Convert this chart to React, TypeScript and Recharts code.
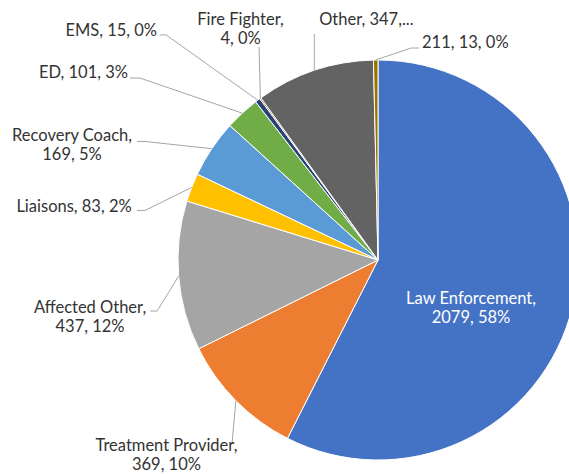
import React from "react";
import { PieChart, Pie, Cell } from "recharts";

const categories = [
  "Law Enforcement",
  "Treatment Provider",
  "Affected Other",
  "Liaisons",
  "Recovery Coach",
  "ED",
  "EMS",
  "Fire Fighter",
  "Other",
  "211",
];
const counts = [2079, 369, 437, 83, 169, 101, 15, 4, 347, 13];
const colors = [
  "#4472C4",
  "#ED7D31",
  "#A5A5A5",
  "#FFC000",
  "#5B9BD5",
  "#70AD47",
  "#264478",
  "#9E480E",
  "#636363",
  "#997300",
];

// label text lines (Excel wraps some of them, "Other" is truncated)
const labelLines: string[][] = [
  ["Law Enforcement,", "2079, 58%"],
  ["Treatment Provider,", "369, 10%"],
  ["Affected Other,", "437, 12%"],
  ["Liaisons, 83, 2%"],
  ["Recovery Coach,", "169, 5%"],
  ["ED, 101, 3%"],
  ["EMS, 15, 0%"],
  ["Fire Fighter,", "4, 0%"],
  ["Other, 347,..."],
  ["211, 13, 0%"],
];

// label placement relative to the slice's outer arc midpoint
type LabelPos = {
  dx: number;
  dy: number;
  anchor: "start" | "middle" | "end";
  leader: [number, number][];
  inside?: boolean;
};
const labelPos: LabelPos[] = [
  { dx: -101.5, dy: -3, anchor: "middle", leader: [], inside: true },
  { dx: -69.4, dy: 50.6, anchor: "middle", leader: [[-3.9, 43.3]] },
  { dx: -88.6, dy: 37, anchor: "middle", leader: [[-28.6, 35], [-21.6, 35]] },
  { dx: -59.9, dy: 24.8, anchor: "end", leader: [[-54.6, 23], [-46.6, 23]] },
  { dx: -139.8, dy: -7.4, anchor: "middle", leader: [[-74.8, -7.2], [-66.8, -7.2]] },
  { dx: -114.2, dy: -35.6, anchor: "end", leader: [[-112.2, -35.1], [-102.2, -35.1]] },
  { dx: -100.6, dy: -64, anchor: "end", leader: [[-97.6, -65.3], [-91.6, -65.3]] },
  { dx: -19.8, dy: -73, anchor: "middle", leader: [[-1.3, -51.3]] },
  { dx: 4.8, dy: -45, anchor: "start", leader: [[0, -36.4]] },
  { dx: 46.3, dy: -12, anchor: "start", leader: [[43.3, -12], [35.3, -12]] },
];

const data = categories.map((name, i) => ({ name, value: counts[i] }));

const RADIAN = Math.PI / 180;
const LINE_H = 19;

const renderLabel = (props: any) => {
  const { cx, cy, midAngle, outerRadius, index } = props;
  const mx = cx + outerRadius * Math.cos(-midAngle * RADIAN);
  const my = cy + outerRadius * Math.sin(-midAngle * RADIAN);
  const pos = labelPos[index];
  const lines = labelLines[index];
  const pts = pos.leader.map(([x, y]) => `${mx + x},${my + y}`);
  return (
    <g key={`label-${index}`}>
      {pos.leader.length > 0 && (
        <polyline
          points={[...pts, `${mx},${my}`].join(" ")}
          fill="none"
          stroke="#A6A6A6"
          strokeWidth={1}
        />
      )}
      <text
        x={mx + pos.dx}
        y={my + pos.dy}
        textAnchor={pos.anchor}
        fill={pos.inside ? "#FFFFFF" : "#333333"}
        style={{ fontFamily: "Lato, sans-serif", fontSize: 16.5 }}
      >
        {lines.map((t, k) => (
          <tspan key={k} x={mx + pos.dx} dy={k === 0 ? 0 : LINE_H}>
            {t}
          </tspan>
        ))}
      </text>
    </g>
  );
};

export default function App() {
  return (
    <div
      style={{
        position: "absolute",
        left: 0,
        top: 0,
        width: 569,
        height: 474,
        overflow: "hidden",
        background: "#fff",
      }}
    >
      <PieChart width={569} height={474} margin={{ top: 0, right: 0, bottom: 0, left: 0 }}>
        <Pie
          data={data}
          dataKey="value"
          nameKey="name"
          cx={378}
          cy={260}
          outerRadius={200}
          startAngle={90}
          endAngle={-270}
          stroke="#FFFFFF"
          strokeWidth={1}
          labelLine={false}
          label={renderLabel}
          isAnimationActive={false}
        >
          {data.map((d, i) => (
            <Cell key={d.name} fill={colors[i]} />
          ))}
        </Pie>
      </PieChart>
    </div>
  );
}
